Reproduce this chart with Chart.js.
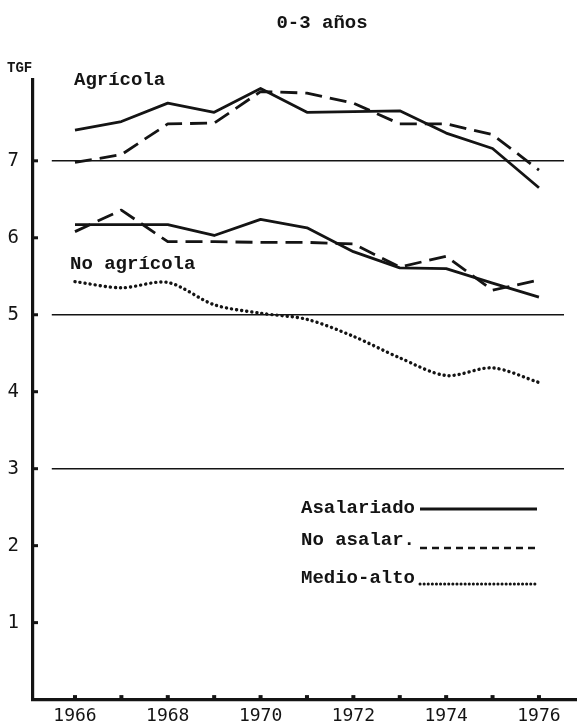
<!DOCTYPE html>
<html>
<head>
<meta charset="utf-8">
<script src="https://cdn.jsdelivr.net/npm/chart.js@4.4.1/dist/chart.umd.min.js"></script>
<style>
html,body{margin:0;padding:0;background:#fff;}
#wrap{width:577px;height:725px;position:relative;}
</style>
</head>
<body>
<div id="wrap"><canvas id="c" width="577" height="725"></canvas></div>
<script>
// ---- data ----
const years = [1966,1967,1968,1969,1970,1971,1972,1973,1974,1975,1976];
const agricolaAsalariado   = [7.40,7.51,7.75,7.63,7.94,7.63,7.64,7.65,7.36,7.16,6.65];
const agricolaNoAsalariado = [6.98,7.08,7.48,7.49,7.90,7.88,7.75,7.48,7.48,7.34,6.88];
const noAgricolaAsalariado = [6.17,6.17,6.17,6.03,6.24,6.13,5.82,5.61,5.60,5.41,5.23];
const noAgricolaNoAsalar   = [6.08,6.36,5.95,5.95,5.94,5.94,5.92,5.62,5.76,5.32,5.45];
const medioAlto            = [5.43,5.35,5.42,5.13,5.02,4.94,4.72,4.44,4.21,4.31,4.12];
const refLevels   = [7,5,3];
const refSpan     = [1965.5,1976.54];
const yTickValues = [1,2,3,4,5,6,7];
const xTickValues = [1966,1968,1970,1972,1974,1976];
const titleText   = '0-3 años';
const axisTitle   = 'TGF';
const groupLabels = ['Agrícola','No agrícola'];
const legendLabels = ['Asalariado','No asalar.','Medio-alto'];

const INK = '#141414';
const TXT_FONT = '"Liberation Mono", "DejaVu Sans Mono", monospace';
const NUM_FONT = '"DejaVu Sans Mono", monospace';

const solidStyle  = {borderDash: [], borderWidth: 2.8, borderCapStyle: 'butt'};
const dashStyle   = {borderDash: [17, 8], borderWidth: 2.8, borderCapStyle: 'butt'};
const dotStyle    = {borderDash: [0.1, 5], borderWidth: 3.4, borderCapStyle: 'round'};

function series(vals){ return years.map((yr,i)=>({x:yr,y:vals[i]})); }

const datasets = [];
refLevels.forEach(v=>{
  datasets.push({label:'ref'+v, data: refSpan.map(x=>({x, y:v})), borderColor: INK, borderWidth: 1.6, pointRadius: 0, tension: 0});
});
datasets.push(Object.assign({label: legendLabels[0]+' agr', data: series(agricolaAsalariado), borderColor: INK, pointRadius: 0, tension: 0}, solidStyle));
datasets.push(Object.assign({label: legendLabels[1]+' agr', data: series(agricolaNoAsalariado), borderColor: INK, pointRadius: 0, tension: 0}, dashStyle));
datasets.push(Object.assign({label: legendLabels[0]+' no agr', data: series(noAgricolaAsalariado), borderColor: INK, pointRadius: 0, tension: 0}, solidStyle));
datasets.push(Object.assign({label: legendLabels[1]+' no agr', data: series(noAgricolaNoAsalar), borderColor: INK, pointRadius: 0, tension: 0}, dashStyle));
datasets.push(Object.assign({label: legendLabels[2], data: series(medioAlto), borderColor: INK, pointRadius: 0, tension: 0.3}, dotStyle));

const annot = {
  id: 'annot',
  afterDraw(chart){
    const {ctx, scales:{x, y}} = chart;
    ctx.save();
    ctx.fillStyle = INK;
    ctx.strokeStyle = INK;
    // small tick nubs inside the axes
    yTickValues.forEach(v=>{ const py = y.getPixelForValue(v); ctx.fillRect(x.left + 1, py - 1.5, 4, 3); });
    years.forEach(v=>{ const px = x.getPixelForValue(v); ctx.fillRect(px - 2, y.bottom - 4.5, 4, 3); });
    // title
    ctx.textBaseline = 'alphabetic';
    ctx.font = 'bold 19px ' + TXT_FONT;
    ctx.textAlign = 'center';
    ctx.fillText(titleText, 322, 28);
    // axis title
    ctx.textAlign = 'left';
    ctx.font = 'bold 14px ' + TXT_FONT;
    ctx.fillText(axisTitle, 7, 72);
    // group labels
    ctx.font = 'bold 19px ' + TXT_FONT;
    ctx.fillText(groupLabels[0], 74, 85);
    ctx.fillText(groupLabels[1], 70, 269);
    // legend
    const ly = [513, 545, 583];
    const lineY = [509, 548, 584];
    const styles = [solidStyle, {borderDash:[7,5], borderWidth:2.6, borderCapStyle:'butt'}, {borderDash:[0.1,4], borderWidth:3, borderCapStyle:'round'}];
    legendLabels.forEach((t,i)=>{
      ctx.fillText(t, 301, ly[i]);
      ctx.beginPath();
      ctx.setLineDash(styles[i].borderDash);
      ctx.lineWidth = styles[i].borderWidth;
      ctx.lineCap = styles[i].borderCapStyle;
      ctx.moveTo(420, lineY[i]);
      ctx.lineTo(537, lineY[i]);
      ctx.stroke();
    });
    ctx.restore();
  }
};

new Chart(document.getElementById('c'), {
  type: 'line',
  data: { datasets },
  options: {
    responsive: false,
    animation: false,
    devicePixelRatio: 1,
    layout: { padding: { top: 80, left: 0, right: 0, bottom: 0 } },
    plugins: { legend: { display: false }, title: { display: false }, tooltip: { enabled: false } },
    elements: { line: { borderJoinStyle: 'round' } },
    scales: {
      x: {
        type: 'linear',
        min: 1965.095, max: 1976.82,
        afterBuildTicks: s => { s.ticks = xTickValues.map(v=>({value:v})); },
        afterFit: s => { s.height = 25; },
        grid: { display: false, drawTicks: false },
        border: { display: true, color: INK, width: 3.2 },
        ticks: { color: INK, font: { family: NUM_FONT, size: 18 }, padding: 6, maxRotation: 0, autoSkip: false, callback: v => String(v) }
      },
      y: {
        type: 'linear',
        min: 0, max: 8.05,
        afterBuildTicks: s => { s.ticks = yTickValues.map(v=>({value:v})); },
        afterFit: s => { s.width = 33; },
        grid: { display: false, drawTicks: false },
        border: { display: true, color: INK, width: 3.2 },
        ticks: { color: INK, font: { family: NUM_FONT, size: 19 }, padding: 14, callback: v => String(v) }
      }
    }
  },
  plugins: [annot]
});
</script>
</body>
</html>
